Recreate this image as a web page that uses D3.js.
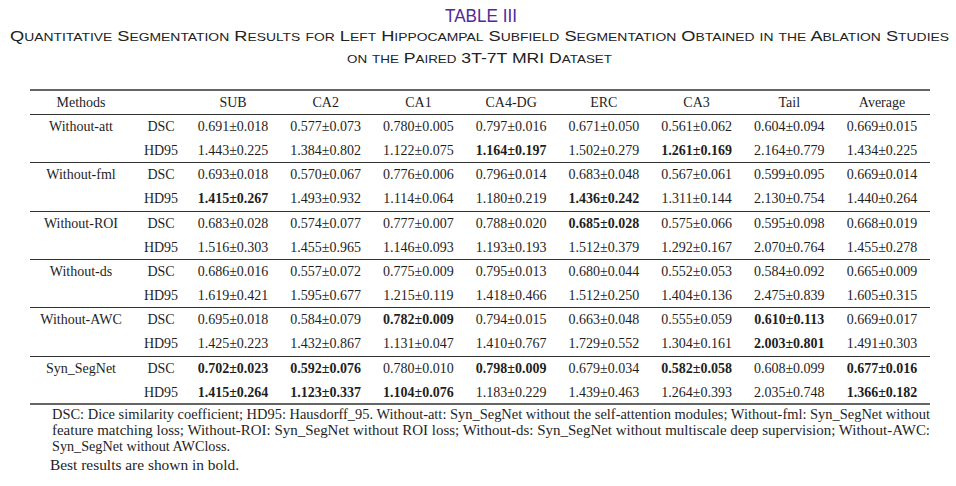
<!DOCTYPE html>
<html>
<head>
<meta charset="utf-8">
<script src="https://cdn.jsdelivr.net/npm/d3@7"></script>
<style>
  body { margin: 0; background: #fff; }
  svg { display: block; }
</style>
</head>
<body>
<svg id="chart" width="956" height="486"></svg>
<script>
// ---- data ----
var methods = ["Without-att", "Without-fml", "Without-ROI", "Without-ds", "Without-AWC", "Syn_SegNet"];
var metrics = ["DSC", "HD95"];
var regions = ["SUB", "CA2", "CA1", "CA4-DG", "ERC", "CA3", "Tail", "Average"];

var dscMean = [
  [0.691, 0.577, 0.780, 0.797, 0.671, 0.561, 0.604, 0.669],
  [0.693, 0.570, 0.776, 0.796, 0.683, 0.567, 0.599, 0.669],
  [0.683, 0.574, 0.777, 0.788, 0.685, 0.575, 0.595, 0.668],
  [0.686, 0.557, 0.775, 0.795, 0.680, 0.552, 0.584, 0.665],
  [0.695, 0.584, 0.782, 0.794, 0.663, 0.555, 0.610, 0.669],
  [0.702, 0.592, 0.780, 0.798, 0.679, 0.582, 0.608, 0.677]
];
var dscStd = [
  [0.018, 0.073, 0.005, 0.016, 0.050, 0.062, 0.094, 0.015],
  [0.018, 0.067, 0.006, 0.014, 0.048, 0.061, 0.095, 0.014],
  [0.028, 0.077, 0.007, 0.020, 0.028, 0.066, 0.098, 0.019],
  [0.016, 0.072, 0.009, 0.013, 0.044, 0.053, 0.092, 0.009],
  [0.018, 0.079, 0.009, 0.015, 0.048, 0.059, 0.113, 0.017],
  [0.023, 0.076, 0.010, 0.009, 0.034, 0.058, 0.099, 0.016]
];
var hdMean = [
  [1.443, 1.384, 1.122, 1.164, 1.502, 1.261, 2.164, 1.434],
  [1.415, 1.493, 1.114, 1.180, 1.436, 1.311, 2.130, 1.440],
  [1.516, 1.455, 1.146, 1.193, 1.512, 1.292, 2.070, 1.455],
  [1.619, 1.595, 1.215, 1.418, 1.512, 1.404, 2.475, 1.605],
  [1.425, 1.432, 1.131, 1.410, 1.729, 1.304, 2.003, 1.491],
  [1.415, 1.123, 1.104, 1.183, 1.439, 1.264, 2.035, 1.366]
];
var hdStd = [
  [0.225, 0.802, 0.075, 0.197, 0.279, 0.169, 0.779, 0.225],
  [0.267, 0.932, 0.064, 0.219, 0.242, 0.144, 0.754, 0.264],
  [0.303, 0.965, 0.093, 0.193, 0.379, 0.167, 0.764, 0.278],
  [0.421, 0.677, 0.119, 0.466, 0.250, 0.136, 0.839, 0.315],
  [0.223, 0.867, 0.047, 0.767, 0.552, 0.161, 0.801, 0.303],
  [0.264, 0.337, 0.076, 0.229, 0.463, 0.393, 0.748, 0.182]
];

var titleNo = "TABLE III";
var titleLines = [
  "Quantitative Segmentation Results for Left Hippocampal Subfield Segmentation Obtained in the Ablation Studies",
  "on the Paired 3T-7T MRI Dataset"
];
var notes = [
  "DSC: Dice similarity coefficient; HD95: Hausdorff_95. Without-att: Syn_SegNet without the self-attention modules; Without-fml: Syn_SegNet without",
  "feature matching loss; Without-ROI: Syn_SegNet without ROI loss; Without-ds: Syn_SegNet without multiscale deep supervision; Without-AWC:",
  "Syn_SegNet without AWCloss.",
  "Best results are shown in bold."
];

// ---- layout ----
var svg = d3.select("#chart");
var serif = "'Liberation Serif', 'Times New Roman', serif";
var narrow = "'Liberation Sans Narrow', 'Arial Narrow', 'Liberation Sans', sans-serif";
var ink = "#1e1e1e";

var tableLeft = 30, tableRight = 930;
var x = d3.scalePoint().domain(regions).range([233, 882]);
var methodX = 81, metricX = 161;

// one band per data row (method x metric)
var rowKeys = [];
methods.forEach(function(m) { metrics.forEach(function(k) { rowKeys.push(m + "|" + k); }); });
var y = d3.scaleBand().domain(rowKeys).range([114, 404]);

// ---- title ----
svg.append("text")
  .attr("x", 481).attr("y", 22)
  .attr("text-anchor", "middle")
  .attr("font-family", narrow)
  .attr("font-size", 19)
  .attr("fill", "#54289a")
  .attr("textLength", 72).attr("lengthAdjust", "spacingAndGlyphs")
  .text(titleNo);

// small caps built by hand: capitals big, lower case letters shrunk
function smallCaps(sel, str) {
  var parts = str.match(/[a-z]+|[^a-z]+/g);
  parts.forEach(function(p) {
    var lower = /^[a-z]/.test(p);
    sel.append("tspan")
      .attr("font-size", lower ? 11.8 : 15.5)
      .text(p.toUpperCase());
  });
}
var titleBox = [[10, 949, 41], [347, 612, 63]];
titleLines.forEach(function(line, i) {
  var t = svg.append("text")
    .attr("x", titleBox[i][0]).attr("y", titleBox[i][2])
    .attr("font-family", narrow)
    .attr("fill", "#222")
    .attr("textLength", titleBox[i][1] - titleBox[i][0])
    .attr("lengthAdjust", "spacingAndGlyphs");
  smallCaps(t, line);
});

// ---- rules ----
svg.append("line")
  .attr("x1", tableLeft).attr("x2", tableRight)
  .attr("y1", 90).attr("y2", 90)
  .attr("stroke", "#666").attr("stroke-width", 1.8);
svg.append("line")
  .attr("x1", tableLeft).attr("x2", tableRight)
  .attr("y1", 114.5).attr("y2", 114.5)
  .attr("stroke", "#333").attr("stroke-width", 1);
svg.selectAll("line.grp")
  .data(methods.slice(1))
  .enter().append("line")
  .attr("class", "grp")
  .attr("x1", tableLeft).attr("x2", tableRight)
  .attr("y1", function(m) { return Math.round(y(m + "|DSC")) + 0.5; })
  .attr("y2", function(m) { return Math.round(y(m + "|DSC")) + 0.5; })
  .attr("stroke", "#333").attr("stroke-width", 1);
svg.append("line")
  .attr("x1", tableLeft).attr("x2", tableRight)
  .attr("y1", 404).attr("y2", 404)
  .attr("stroke", "#666").attr("stroke-width", 1.8);

// ---- header ----
var head = svg.append("g")
  .attr("font-family", serif).attr("font-size", 14).attr("fill", ink)
  .attr("text-anchor", "middle");
head.append("text").attr("x", methodX).attr("y", 106.5).text("Methods");
head.selectAll("text.reg")
  .data(regions)
  .enter().append("text")
  .attr("class", "reg")
  .attr("x", function(d) { return x(d); })
  .attr("y", 106.5)
  .text(function(d) { return d; });

// ---- body ----
var cells = [];
methods.forEach(function(m, mi) {
  regions.forEach(function(r, ri) {
    var dCol = dscMean.map(function(row) { return row[ri]; });
    var hCol = hdMean.map(function(row) { return row[ri]; });
    cells.push({ row: m + "|DSC", reg: r, mean: dscMean[mi][ri], sd: dscStd[mi][ri],
      best: dscMean[mi][ri] === d3.max(dCol) });
    cells.push({ row: m + "|HD95", reg: r, mean: hdMean[mi][ri], sd: hdStd[mi][ri],
      best: hdMean[mi][ri] === d3.min(hCol) });
  });
});

var body = svg.append("g")
  .attr("font-family", serif).attr("font-size", 14).attr("fill", ink)
  .attr("text-anchor", "middle");

var base = function(key) { return y(key) + y.bandwidth() / 2 + 4.8; };

body.selectAll("text.meth")
  .data(methods)
  .enter().append("text")
  .attr("class", "meth")
  .attr("x", methodX)
  .attr("y", function(m) { return base(m + "|DSC"); })
  .text(function(m) { return m; });

body.selectAll("text.metric")
  .data(rowKeys)
  .enter().append("text")
  .attr("class", "metric")
  .attr("x", metricX)
  .attr("y", function(k) { return base(k); })
  .text(function(k) { return k.split("|")[1]; });

body.selectAll("text.val")
  .data(cells)
  .enter().append("text")
  .attr("class", "val")
  .attr("x", function(d) { return x(d.reg); })
  .attr("y", function(d) { return base(d.row); })
  .attr("font-weight", function(d) { return d.best ? "bold" : null; })
  .text(function(d) { return d.mean.toFixed(3) + "\u00b1" + d.sd.toFixed(3); });

// ---- notes ----
var noteY = [419, 435, 451, 470];
var noteX = [52, 52, 52, 50];
var noteLen = [878, 878, 178, 189];
svg.selectAll("text.note")
  .data(notes)
  .enter().append("text")
  .attr("class", "note")
  .attr("x", function(d, i) { return noteX[i]; })
  .attr("y", function(d, i) { return noteY[i]; })
  .attr("font-family", serif)
  .attr("font-size", 14)
  .attr("fill", ink)
  .attr("textLength", function(d, i) { return noteLen[i]; })
  .attr("lengthAdjust", "spacingAndGlyphs")
  .text(function(d) { return d; });
</script>
</body>
</html>
